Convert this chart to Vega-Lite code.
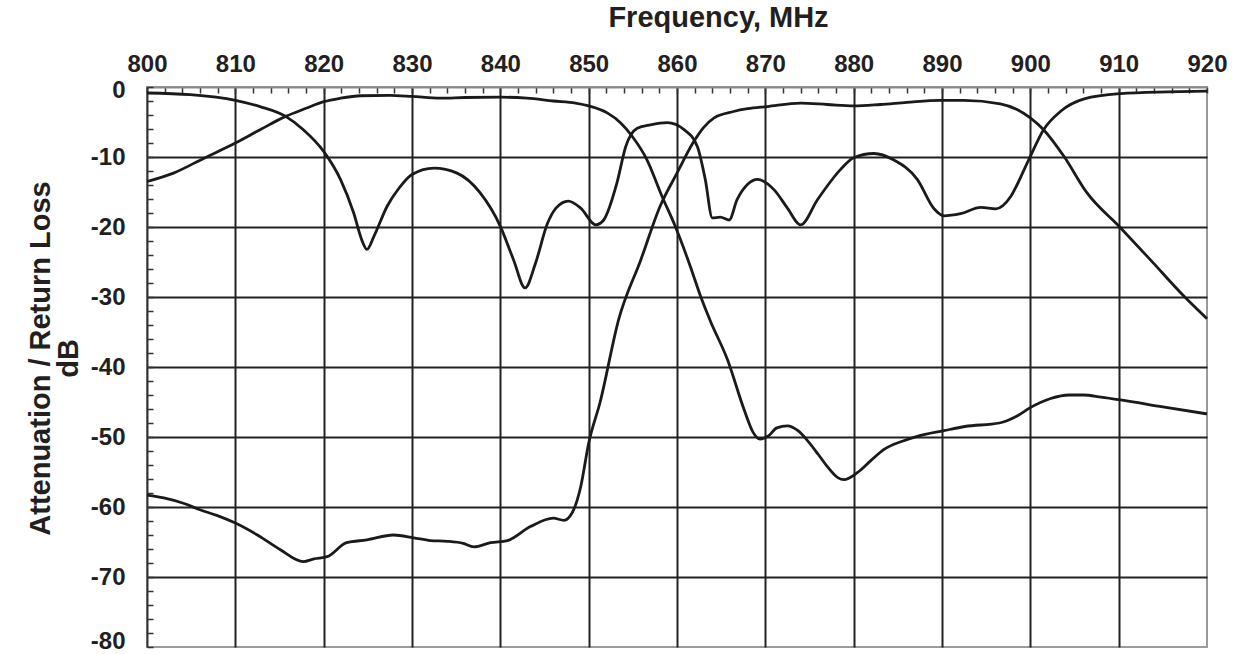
{
  "$schema": "https://vega.github.io/schema/vega-lite/v6.json",
  "autosize": "none",
  "width": 1060,
  "height": 560,
  "padding": {"left": 147, "top": 87, "right": 29, "bottom": 7},
  "background": "white",
  "config": {
    "view": {"stroke": "#9a9a9a", "strokeWidth": 2},
    "font": "Liberation Sans"
  },
  "data": {
    "values": [
      {"s":"Tx","f":800,"db":-13.5},{"s":"Tx","f":803,"db":-12.3},{"s":"Tx","f":806.4,"db":-10.2},{"s":"Tx","f":810,"db":-8.0},{"s":"Tx","f":812.8,"db":-6.1},{"s":"Tx","f":815.7,"db":-4.2},{"s":"Tx","f":818.1,"db":-3.0},{"s":"Tx","f":820,"db":-2.1},{"s":"Tx","f":821.9,"db":-1.6},{"s":"Tx","f":824.2,"db":-1.25},{"s":"Tx","f":827.5,"db":-1.2},{"s":"Tx","f":830,"db":-1.35},{"s":"Tx","f":833.2,"db":-1.6},{"s":"Tx","f":836,"db":-1.5},{"s":"Tx","f":840,"db":-1.45},{"s":"Tx","f":843,"db":-1.6},{"s":"Tx","f":846,"db":-2.0},{"s":"Tx","f":848.5,"db":-2.3},{"s":"Tx","f":850,"db":-2.7},{"s":"Tx","f":852.1,"db":-3.7},{"s":"Tx","f":853.6,"db":-5.1},{"s":"Tx","f":854.9,"db":-7.0},{"s":"Tx","f":856.6,"db":-10.4},{"s":"Tx","f":858.3,"db":-15.6},{"s":"Tx","f":859.8,"db":-19.9},{"s":"Tx","f":861.5,"db":-25.6},{"s":"Tx","f":862.7,"db":-30.0},{"s":"Tx","f":863.8,"db":-33.5},{"s":"Tx","f":865.7,"db":-38.9},{"s":"Tx","f":867.6,"db":-46.1},{"s":"Tx","f":868.6,"db":-49.3},{"s":"Tx","f":869.4,"db":-50.3},{"s":"Tx","f":870.3,"db":-49.9},{"s":"Tx","f":871.3,"db":-48.7},{"s":"Tx","f":872.5,"db":-48.4},{"s":"Tx","f":873.7,"db":-49.1},{"s":"Tx","f":874.7,"db":-50.4},{"s":"Tx","f":876,"db":-52.5},{"s":"Tx","f":877,"db":-54.2},{"s":"Tx","f":878.2,"db":-55.8},{"s":"Tx","f":878.9,"db":-56.1},{"s":"Tx","f":880.4,"db":-55.1},{"s":"Tx","f":882,"db":-53.3},{"s":"Tx","f":883.4,"db":-51.8},{"s":"Tx","f":885.5,"db":-50.6},{"s":"Tx","f":887.2,"db":-49.9},{"s":"Tx","f":890.2,"db":-49.1},{"s":"Tx","f":892.6,"db":-48.5},{"s":"Tx","f":896.5,"db":-48.0},{"s":"Tx","f":898.5,"db":-47.0},{"s":"Tx","f":900,"db":-45.8},{"s":"Tx","f":902.3,"db":-44.5},{"s":"Tx","f":904.4,"db":-44.0},{"s":"Tx","f":906,"db":-44.0},{"s":"Tx","f":908,"db":-44.3},{"s":"Tx","f":910.2,"db":-44.7},{"s":"Tx","f":915,"db":-45.7},{"s":"Tx","f":920,"db":-46.7},
      {"s":"Rx","f":800,"db":-58.3},{"s":"Rx","f":801.9,"db":-58.7},{"s":"Rx","f":804.2,"db":-59.5},{"s":"Rx","f":806,"db":-60.4},{"s":"Rx","f":807.9,"db":-61.2},{"s":"Rx","f":810,"db":-62.3},{"s":"Rx","f":812.5,"db":-64.0},{"s":"Rx","f":815.1,"db":-66.1},{"s":"Rx","f":817.7,"db":-67.8},{"s":"Rx","f":818.9,"db":-67.4},{"s":"Rx","f":820.4,"db":-67.1},{"s":"Rx","f":822.6,"db":-65.1},{"s":"Rx","f":824.9,"db":-64.7},{"s":"Rx","f":827.9,"db":-64.0},{"s":"Rx","f":830.2,"db":-64.4},{"s":"Rx","f":832.1,"db":-64.8},{"s":"Rx","f":834,"db":-64.9},{"s":"Rx","f":835.8,"db":-65.2},{"s":"Rx","f":837,"db":-65.7},{"s":"Rx","f":838.9,"db":-65.1},{"s":"Rx","f":840.8,"db":-64.8},{"s":"Rx","f":843.4,"db":-62.8},{"s":"Rx","f":846,"db":-61.6},{"s":"Rx","f":847.2,"db":-61.9},{"s":"Rx","f":848.1,"db":-60.9},{"s":"Rx","f":849.1,"db":-57.1},{"s":"Rx","f":850,"db":-50.9},{"s":"Rx","f":851.3,"db":-45.0},{"s":"Rx","f":853.4,"db":-33.2},{"s":"Rx","f":855.9,"db":-24.7},{"s":"Rx","f":858.1,"db":-17.0},{"s":"Rx","f":860,"db":-12.3},{"s":"Rx","f":861.9,"db":-7.8},{"s":"Rx","f":863,"db":-5.8},{"s":"Rx","f":864.2,"db":-4.4},{"s":"Rx","f":866.4,"db":-3.5},{"s":"Rx","f":868,"db":-3.1},{"s":"Rx","f":870.2,"db":-2.8},{"s":"Rx","f":874,"db":-2.3},{"s":"Rx","f":877,"db":-2.5},{"s":"Rx","f":880,"db":-2.7},{"s":"Rx","f":883,"db":-2.5},{"s":"Rx","f":886,"db":-2.2},{"s":"Rx","f":889.8,"db":-1.9},{"s":"Rx","f":892.5,"db":-1.9},{"s":"Rx","f":896.6,"db":-2.4},{"s":"Rx","f":898.5,"db":-3.2},{"s":"Rx","f":900,"db":-4.4},{"s":"Rx","f":901.5,"db":-6.1},{"s":"Rx","f":903.8,"db":-9.9},{"s":"Rx","f":906.4,"db":-15.1},{"s":"Rx","f":910.2,"db":-20.1},{"s":"Rx","f":913.6,"db":-24.7},{"s":"Rx","f":917.4,"db":-29.9},{"s":"Rx","f":920,"db":-33.1},
      {"s":"RL","f":800,"db":-0.86},{"s":"RL","f":804.9,"db":-1.1},{"s":"RL","f":810,"db":-1.9},{"s":"RL","f":812.8,"db":-2.8},{"s":"RL","f":815.7,"db":-4.2},{"s":"RL","f":817.7,"db":-6.1},{"s":"RL","f":820,"db":-9.2},{"s":"RL","f":821.9,"db":-13.2},{"s":"RL","f":823.4,"db":-18.0},{"s":"RL","f":824.3,"db":-21.8},{"s":"RL","f":824.9,"db":-23.2},{"s":"RL","f":825.7,"db":-21.3},{"s":"RL","f":827.2,"db":-17.0},{"s":"RL","f":828.5,"db":-14.5},{"s":"RL","f":830,"db":-12.5},{"s":"RL","f":832.5,"db":-11.6},{"s":"RL","f":835.1,"db":-12.3},{"s":"RL","f":837.7,"db":-15.1},{"s":"RL","f":840,"db":-19.9},{"s":"RL","f":841.5,"db":-24.7},{"s":"RL","f":842.8,"db":-28.7},{"s":"RL","f":844,"db":-25.1},{"s":"RL","f":845.3,"db":-19.6},{"s":"RL","f":846.3,"db":-17.3},{"s":"RL","f":847.7,"db":-16.3},{"s":"RL","f":849.1,"db":-17.3},{"s":"RL","f":850.8,"db":-19.7},{"s":"RL","f":851.7,"db":-19.0},{"s":"RL","f":853.2,"db":-13.7},{"s":"RL","f":854.2,"db":-8.5},{"s":"RL","f":855.5,"db":-5.9},{"s":"RL","f":857,"db":-5.4},{"s":"RL","f":858.9,"db":-5.1},{"s":"RL","f":860.8,"db":-6.1},{"s":"RL","f":862.3,"db":-8.5},{"s":"RL","f":863.2,"db":-13.2},{"s":"RL","f":864,"db":-18.7},{"s":"RL","f":864.9,"db":-18.6},{"s":"RL","f":865.9,"db":-19.0},{"s":"RL","f":866.8,"db":-16.1},{"s":"RL","f":868,"db":-13.9},{"s":"RL","f":869.1,"db":-13.2},{"s":"RL","f":871,"db":-14.7},{"s":"RL","f":872.5,"db":-17.3},{"s":"RL","f":874,"db":-19.7},{"s":"RL","f":875.9,"db":-16.1},{"s":"RL","f":878.5,"db":-11.8},{"s":"RL","f":880,"db":-10.1},{"s":"RL","f":882.3,"db":-9.5},{"s":"RL","f":884.5,"db":-10.4},{"s":"RL","f":887.2,"db":-13.2},{"s":"RL","f":889.1,"db":-17.4},{"s":"RL","f":890.2,"db":-18.4},{"s":"RL","f":892.1,"db":-18.1},{"s":"RL","f":894.4,"db":-17.2},{"s":"RL","f":896.1,"db":-17.4},{"s":"RL","f":897.8,"db":-15.6},{"s":"RL","f":899.3,"db":-11.8},{"s":"RL","f":900,"db":-9.9},{"s":"RL","f":901.5,"db":-6.1},{"s":"RL","f":903.4,"db":-3.5},{"s":"RL","f":906.1,"db":-1.7},{"s":"RL","f":910.2,"db":-0.95},{"s":"RL","f":915.5,"db":-0.7},{"s":"RL","f":920,"db":-0.6}
    ]
  },
  "mark": {"type": "line", "interpolate": "monotone", "color": "#1a1a1a", "strokeWidth": 2.8},
  "encoding": {
    "detail": {"field": "s", "type": "nominal"},
    "x": {
      "field": "f", "type": "quantitative",
      "scale": {"domain": [800, 920], "nice": false, "zero": false},
      "axis": {
        "orient": "top",
        "values": [800,802,804,806,808,810,812,814,816,818,820,822,824,826,828,830,832,834,836,838,840,842,844,846,848,850,852,854,856,858,860,862,864,866,868,870,872,874,876,878,880,882,884,886,888,890,892,894,896,898,900,902,904,906,908,910,912,914,916,918,920],
        "labelExpr": "datum.value % 10 === 0 ? '' + datum.value : ''",
        "labelFont": "Liberation Sans", "labelFontWeight": "bold", "labelFontSize": 24, "labelColor": "#231f20",
        "labelBaseline": "alphabetic", "labelPadding": 21.6, "labelOverlap": false, "labelFlush": false, "labelBound": false,
        "tickSize": -6, "tickColor": "#333333", "tickWidth": 1.5,
        "grid": true,
        "gridColor": {"condition": {"test": "datum.value % 10 === 0 && datum.value > 800 && datum.value < 920", "value": "#222222"}, "value": "transparent"},
        "gridWidth": 2,
        "domainColor": "#8a8a8a", "domainWidth": 2,
        "title": "Frequency, MHz",
        "titleFont": "Liberation Sans", "titleFontWeight": "bold", "titleFontSize": 29, "titleColor": "#231f20",
        "titleX": 571, "titleY": -61, "titleAlign": "center", "titleBaseline": "alphabetic", "titleAnchor": null
      }
    },
    "y": {
      "field": "db", "type": "quantitative",
      "scale": {"domain": [-80, 0], "nice": false, "zero": false},
      "axis": {
        "orient": "left",
        "values": [-80,-78,-76,-74,-72,-70,-68,-66,-64,-62,-60,-58,-56,-54,-52,-50,-48,-46,-44,-42,-40,-38,-36,-34,-32,-30,-28,-26,-24,-22,-20,-18,-16,-14,-12,-10,-8,-6,-4,-2,0],
        "labelExpr": "datum.value % 10 === 0 ? '' + datum.value : ''",
        "labelFont": "Liberation Sans", "labelFontWeight": "bold", "labelFontSize": 24, "labelColor": "#231f20",
        "labelBaseline": "middle",
        "labelOffset": {"condition": [{"test": "datum.value === -80", "value": -6}, {"test": "datum.value === 0", "value": 3}], "value": 0},
        "labelPadding": 28, "labelOverlap": false, "labelFlush": false, "labelBound": false,
        "tickSize": -6, "tickColor": "#333333", "tickWidth": 1.5,
        "grid": true,
        "gridColor": {"condition": {"test": "datum.value % 10 === 0 && datum.value > -80 && datum.value < 0", "value": "#222222"}, "value": "transparent"},
        "gridWidth": 2,
        "domainColor": "#333333", "domainWidth": 2,
        "title": ["Attenuation / Return Loss", "dB"],
        "titleFont": "Liberation Sans", "titleFontWeight": "bold", "titleFontSize": 29, "titleColor": "#231f20",
        "titleLineHeight": 28,
        "titleAngle": -90,
        "titleX": -98, "titleY": 271, "titleAlign": "center", "titleBaseline": "alphabetic", "titleAnchor": null
      }
    }
  }
}
